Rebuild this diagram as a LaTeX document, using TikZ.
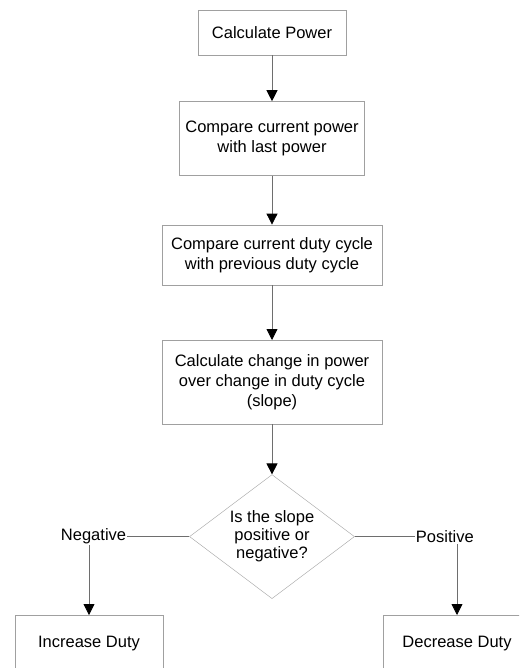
\documentclass[tikz,border=0pt]{standalone}
\usepackage{fontspec}
\setmainfont{Liberation Sans}
\usepackage{tikz}
\usetikzlibrary {arrows.meta,
                 positioning,
                 shapes.geometric}
\definecolor{boxgray}{RGB}{160,160,160}
\definecolor{linegray}{RGB}{110,110,110}
\tikzset{
        base/.style={draw=boxgray, align=center, inner sep=0pt,
                     font=\fontsize{16.5}{20}\selectfont},
        proc/.style={base, rectangle},
        test/.style={base, diamond, aspect=1.33,
                     minimum width=165pt, minimum height=124pt,
                     font=\fontsize{16.5}{18}\selectfont},
        lbl/.style={inner sep=1pt, font=\fontsize{16.5}{20}\selectfont},
        myarrow/.style={-{Triangle[length=11pt, width=11pt, color=black]},
                        draw=linegray, line width=0.8pt},
        myline/.style={draw=linegray, line width=0.8pt},
 }
\begin{document}
\begin{tikzpicture}[x=1pt, y=1pt]
    \path[use as bounding box, clip] (0,0) rectangle (519,-668);

    \node[proc, minimum width=148pt, minimum height=45pt] (a) at (272,-32.5) {Calculate Power};
    \node[proc, minimum width=185pt, minimum height=74pt, below=46pt of a] (b) {Compare current power\\with last power};
    \node[proc, minimum width=220pt, minimum height=60pt, below=49pt of b] (c) {Compare current duty cycle\\with previous duty cycle};
    \node[proc, minimum width=220pt, minimum height=84pt, below=55pt of c] (d) {Calculate change in power\\over change in duty cycle\\(slope)};
    \node[test, below=50pt of d] (e) {Is the slope\\positive or\\negative?};

    \node[lbl, left=62pt of e] (neg) {Negative};
    \node[lbl, right=60pt of e] (pos) {Positive};

    \node[proc, minimum width=148pt, minimum height=56pt, anchor=north] (f) at (89,-615) {Increase Duty};
    \node[proc, minimum width=148pt, minimum height=56pt, anchor=north] (g) at (457,-615) {Decrease Duty};

    \draw[myarrow] (a) -- (b);
    \draw[myarrow] (b) -- (c);
    \draw[myarrow] (c) -- (d);
    \draw[myarrow] (d) -- (e);

    \draw[myline] (e.west) -- (neg.east);
    \draw[myline] (e.east) -- (pos.west);
    \draw[myarrow] (f |- neg.south) -- (f);
    \draw[myarrow] (g |- pos.south) -- (g);
\end{tikzpicture}
\end{document}
